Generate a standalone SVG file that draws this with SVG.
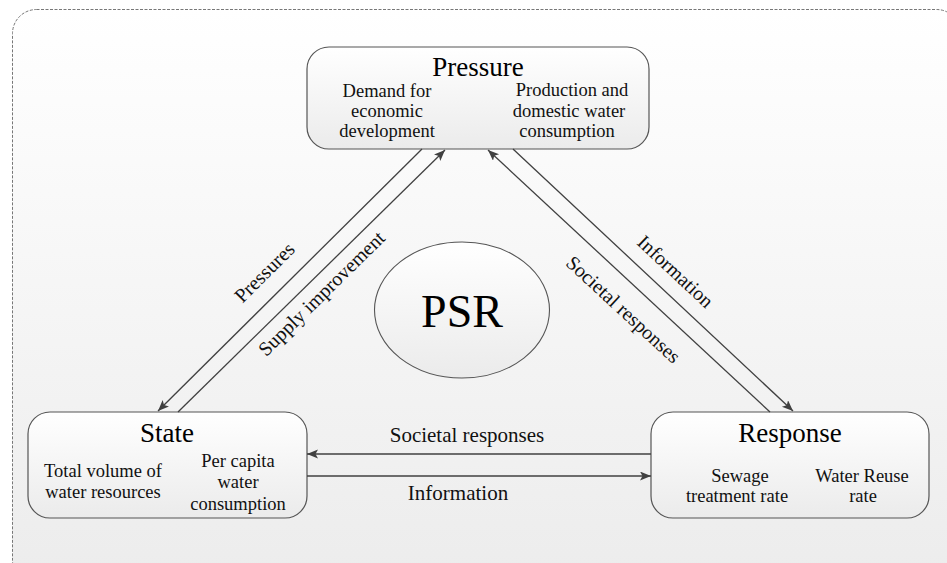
<svg xmlns="http://www.w3.org/2000/svg" width="947" height="563" viewBox="0 0 947 563">
  <defs>
    <linearGradient id="bg" x1="0" y1="0" x2="0" y2="1">
      <stop offset="0" stop-color="#ffffff"/>
      <stop offset="1" stop-color="#ececec"/>
    </linearGradient>
    <linearGradient id="nodefill" x1="0" y1="0" x2="0" y2="1">
      <stop offset="0" stop-color="#ffffff"/>
      <stop offset="1" stop-color="#ebebeb"/>
    </linearGradient>
    <marker id="arr" markerUnits="userSpaceOnUse" markerWidth="12" markerHeight="10" refX="11" refY="4.5" orient="auto">
      <path d="M0,0 L11,4.5 L0,9 L2.5,4.5 z" fill="#404040"/>
    </marker>
    <style>
      .node { fill: url(#nodefill); stroke: #555555; stroke-width: 1.2; }
      .title { font-family: "Liberation Serif", "Times New Roman", serif; font-size: 27px; fill: #000; text-anchor: middle; }
      .small { font-family: "Liberation Serif", "Times New Roman", serif; font-size: 18.5px; fill: #111; text-anchor: middle; }
      .lbl { font-family: "Liberation Serif", "Times New Roman", serif; font-size: 20px; fill: #111; text-anchor: middle; }
      .hlbl { font-family: "Liberation Serif", "Times New Roman", serif; font-size: 21px; fill: #111; text-anchor: middle; }
      .conn { stroke: #404040; stroke-width: 1.3; fill: none; }
    </style>
  </defs>

  <rect x="12.5" y="9.5" width="948" height="575" rx="24" fill="url(#bg)" stroke="#777777" stroke-width="1" stroke-dasharray="3,1.5"/>

  <g id="pressure">
    <rect class="node" x="307" y="47" width="342" height="102" rx="22"/>
    <text class="title" x="478" y="76">Pressure</text>
    <text class="small" x="387" y="97">Demand for</text>
    <text class="small" x="387" y="117">economic</text>
    <text class="small" x="387" y="137">development</text>
    <text class="small" x="572" y="96">Production and</text>
    <text class="small" x="569" y="117">domestic water</text>
    <text class="small" x="567" y="137">consumption</text>
  </g>

  <g id="state">
    <rect class="node" x="28" y="412" width="279" height="106" rx="22"/>
    <text class="title" x="167" y="442">State</text>
    <text class="small" x="103" y="477">Total volume of</text>
    <text class="small" x="103" y="498">water resources</text>
    <text class="small" x="238" y="467">Per capita</text>
    <text class="small" x="238" y="488">water</text>
    <text class="small" x="238" y="510">consumption</text>
  </g>

  <g id="response">
    <rect class="node" x="651" y="412" width="278" height="106" rx="22"/>
    <text class="title" x="790" y="442">Response</text>
    <text class="small" x="740" y="482">Sewage</text>
    <text class="small" x="737" y="502">treatment rate</text>
    <text class="small" x="862" y="482">Water Reuse</text>
    <text class="small" x="863" y="502">rate</text>
  </g>

  <g id="psr">
    <ellipse cx="462" cy="310" rx="87.5" ry="68" fill="url(#nodefill)" stroke="#555555" stroke-width="1.1"/>
    <text x="462" y="327" font-family="'Liberation Serif', 'Times New Roman', serif" font-size="46" text-anchor="middle" fill="#000">PSR</text>
  </g>

  <g id="connectors">
    <line class="conn" x1="422" y1="149" x2="158" y2="411" marker-end="url(#arr)"/>
    <line class="conn" x1="178" y1="412" x2="445" y2="150" marker-end="url(#arr)"/>
    <line class="conn" x1="770" y1="412" x2="488" y2="150" marker-end="url(#arr)"/>
    <line class="conn" x1="513" y1="149" x2="793" y2="411" marker-end="url(#arr)"/>
    <line class="conn" x1="651" y1="454" x2="307" y2="454" marker-end="url(#arr)"/>
    <line class="conn" x1="307" y1="476" x2="651" y2="476" marker-end="url(#arr)"/>

    <text class="lbl" transform="translate(265,273) rotate(-44.8)" y="6">Pressures</text>
    <text class="lbl" transform="translate(322,294) rotate(-44.5)" y="6">Supply improvement</text>
    <text class="lbl" transform="translate(675,272) rotate(43)" y="6">Information</text>
    <text class="lbl" transform="translate(623,310) rotate(42.7)" y="6">Societal responses</text>
    <text class="hlbl" x="467" y="442">Societal responses</text>
    <text class="hlbl" x="458" y="500">Information</text>
  </g>
</svg>
